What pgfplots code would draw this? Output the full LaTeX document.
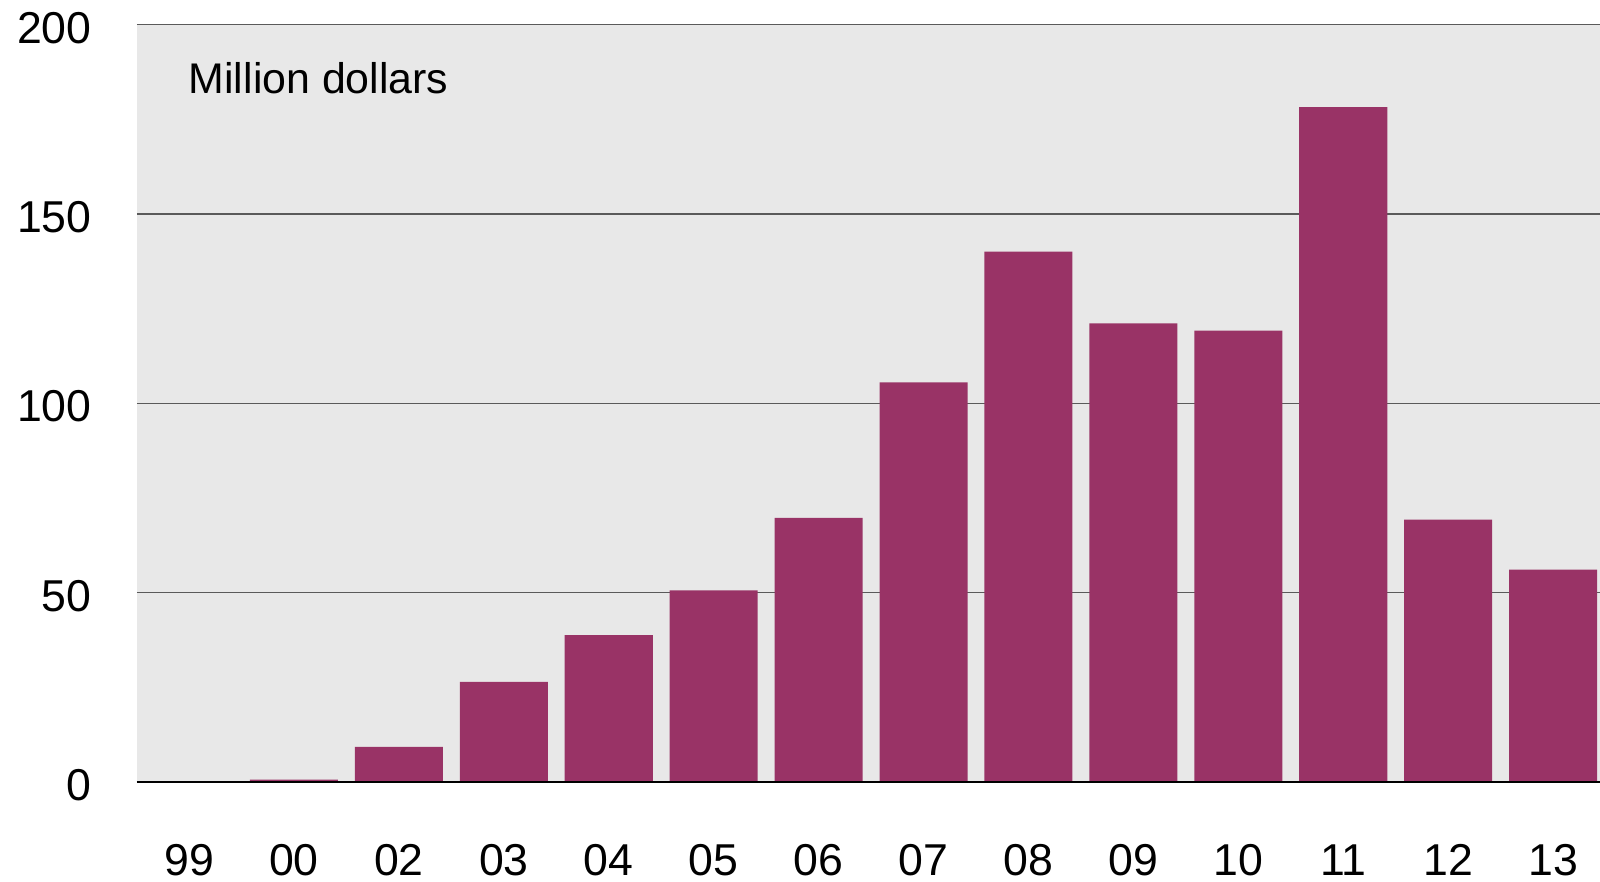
\documentclass[border=0pt]{standalone}
\usepackage{fontspec}
\setmainfont{Liberation Sans}
\usepackage{pgfplots}
\pgfplotsset{compat=1.18}
\definecolor{barPlum}{HTML}{993366}
\definecolor{bgGrey}{HTML}{E8E8E8}
\definecolor{gridGrey}{HTML}{5A5A5A}
\newcommand{\tickfont}{\fontsize{12.7}{15}\selectfont}
\newcommand{\notefont}{\fontsize{12.2}{15}\selectfont}

\begin{document}
\begin{tikzpicture}
% page frame: 1600x882 px at 0.28453pt per px
\useasboundingbox (-38.98pt,-28.45pt) rectangle (416.27pt,222.50pt);
\begin{axis}[
  at={(0,0)}, anchor=south west,
  width=416.27pt, height=215.53pt, scale only axis,
  xmin=-0.496, xmax=13.447, ymin=0, ymax=200,
  axis background/.style={fill=bgGrey},
  axis line style={draw=none}, tick style={draw=none},
  ytick={0,50,100,150,200},
  ymajorgrids, grid style={gridGrey, line width=0.4pt},
  xtick={0,...,13},
  xticklabels={99,00,02,03,04,05,06,07,08,09,10,11,12,13},
  /pgf/number format/assume math mode=true,
  ticklabel style={font=\tickfont},
  yticklabel style={xshift=-9.4pt, yshift=-0.9pt},
  xticklabel style={anchor=base, yshift=-26.7pt},
  clip=false,
]
  \addplot[ybar, bar width=0.839, fill=barPlum, draw=none]
    coordinates {(0,0) (1,0.6) (2,9.3) (3,26.4) (4,38.8) (5,50.6) (6,69.7)
                 (7,105.5) (8,140.0) (9,121.1) (10,119.2) (11,178.2) (12,69.3) (13,56.1)};
  \draw[black, line width=0.5pt] (rel axis cs:0,0) -- (rel axis cs:1,0);
  \node[anchor=base west, inner sep=0pt, font=\notefont] at (rel axis cs:0.0349,0.9085) {Million dollars};
\end{axis}
\end{tikzpicture}
\end{document}
